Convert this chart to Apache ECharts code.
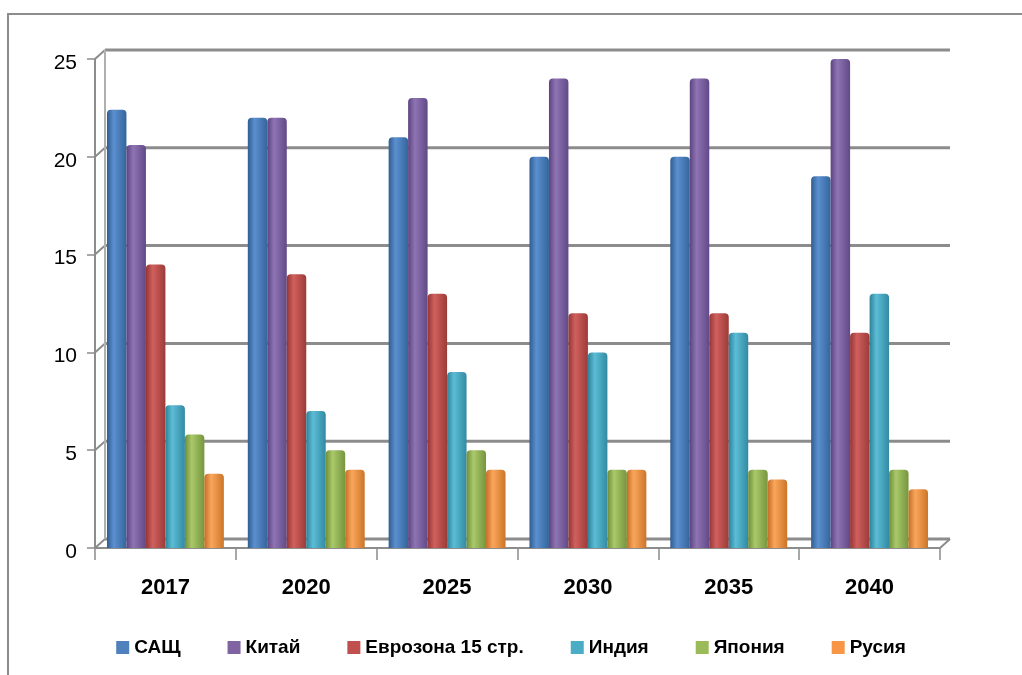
<!DOCTYPE html>
<html><head><meta charset="utf-8">
<script src="https://cdn.jsdelivr.net/npm/echarts@6/dist/echarts.min.js"></script>
<style>html,body{margin:0;padding:0;background:#fff}#c{width:1022px;height:675px}</style>
</head><body><div id="c"></div>
<script>
const categories = ['2017','2020','2025','2030','2035','2040'];
const seriesNames = ['САЩ','Китай','Еврозона 15 стр.','Индия','Япония','Русия'];
const usa    = [22.4, 22.0, 21.0, 20.0, 20.0, 19.0];
const china  = [20.6, 22.0, 23.0, 24.0, 24.0, 25.0];
const euro   = [14.5, 14.0, 13.0, 12.0, 12.0, 11.0];
const india  = [7.3, 7.0, 9.0, 10.0, 11.0, 13.0];
const japan  = [5.8, 5.0, 5.0, 4.0, 4.0, 4.0];
const russia = [3.8, 4.0, 4.0, 4.0, 3.5, 3.0];
const yTicks = [0, 5, 10, 15, 20, 25];

const values = [usa, china, euro, india, japan, russia];
const baseColors = ['#4F81BD','#8064A2','#C0504D','#4BACC6','#9BBB59','#F79646'];
const colors = [
  ['#2f5d90','#5b8fcf','#34659c'],
  ['#5c4480','#8f74b4','#614987'],
  ['#943634','#d0605d','#9c3b38'],
  ['#2d8299','#5cbdd6','#318aa2'],
  ['#6f8d39','#a9c96a','#76953e'],
  ['#c56e25','#f9a65c','#cc7528']
];
const font = "Arial,'Liberation Sans',sans-serif";

const series = seriesNames.map((n, i) => ({
  name: n, type: 'bar', data: values[i], barGap: '0%', barCategoryGap: '17%', z: 5,
  itemStyle: {
    color: {type:'linear', x:0, y:0, x2:1, y2:0, colorStops:[
      {offset:0, color:colors[i][0]}, {offset:0.35, color:colors[i][1]}, {offset:1, color:colors[i][2]}]},
    borderRadius: [4,4,0,0]
  }
}));

const GRID = {left: 95, right: 82, top: 59, bottom: 127};
const chart = echarts.init(document.getElementById('c'));
chart.setOption({
  animation: false,
  grid: GRID,
  legend: {
    bottom: 13, left: 'center', itemWidth: 13, itemHeight: 13, itemGap: 47, icon: 'rect',
    textStyle: {fontFamily: font, fontWeight: 'bold', fontSize: 19, color: '#000'},
    data: seriesNames.map((n, i) => ({name: n, itemStyle: {color: baseColors[i]}}))
  },
  xAxis: {
    type: 'category', data: categories,
    axisLine: {lineStyle: {color: '#8c8c8c', width: 2}},
    axisTick: {show: true, length: 12, lineStyle: {color: '#8c8c8c', width: 1.5}},
    axisLabel: {fontFamily: font, fontWeight: 'bold', fontSize: 22, color: '#000', margin: 29}
  },
  yAxis: {
    type: 'value', min: 0, max: 25, interval: 5,
    axisLine: {show: true, lineStyle: {color: '#8c8c8c', width: 2}},
    axisTick: {show: true, length: 8, lineStyle: {color: '#8c8c8c', width: 1.5}},
    axisLabel: {color: '#000', margin: 18,
      formatter: v => yTicks.includes(v) ? '{a|' + v + '}' : '',
      rich: {a: {fontFamily: font, fontSize: 21, color: '#000', padding: [8,0,0,0]}}},
    splitLine: {show: false}
  },
  series: series
});

// 3D-style back wall gridlines derived from axis scale
const dx = 10, dy = 9;
const g = [{type:'rect', shape:{x:8, y:14, width:1100, height:700}, style:{fill:'none', stroke:'#8c8c8c', lineWidth:2}, silent:true, z:0}];
const c0 = chart.convertToPixel({xAxisIndex:0}, 0);
const c1 = chart.convertToPixel({xAxisIndex:0}, 1);
const bw = c1 - c0;
const xL = c0 - bw / 2;
const xR = c0 + bw * (categories.length - 0.5);
yTicks.forEach(v => {
  const y = chart.convertToPixel({yAxisIndex:0}, v);
  g.push({type:'line', shape:{x1:xL+dx, y1:y-dy, x2:xR+dx, y2:y-dy}, style:{stroke:'#8c8c8c', lineWidth:3}, silent:true, z:1});
  g.push({type:'line', shape:{x1:xL, y1:y, x2:xL+dx, y2:y-dy}, style:{stroke:'#8c8c8c', lineWidth:2}, silent:true, z:1});
});
const y0 = chart.convertToPixel({yAxisIndex:0}, 0);
const y25 = chart.convertToPixel({yAxisIndex:0}, 25);
g.push({type:'line', shape:{x1:xR, y1:y0, x2:xR+dx, y2:y0-dy}, style:{stroke:'#8c8c8c', lineWidth:2}, silent:true, z:1});
g.push({type:'line', shape:{x1:xL+dx, y1:y25-dy, x2:xL+dx, y2:y0-dy}, style:{stroke:'#b0b0b0', lineWidth:2}, silent:true, z:1});
chart.setOption({graphic: g});
</script></body></html>
